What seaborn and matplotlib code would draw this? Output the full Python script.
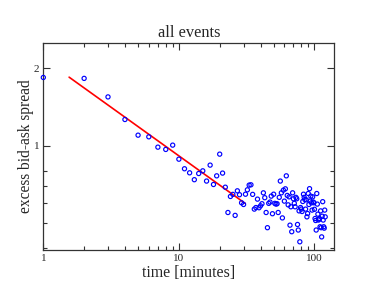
import numpy as np
import pandas as pd
import matplotlib
matplotlib.use("Agg")
import matplotlib.pyplot as plt
import matplotlib.ticker as mticker
import seaborn as sns

# excess spread per minute after the event
minutes = list(range(1, 121))
spread = [
    1.845, 1.83, 1.55, 1.266, 1.10, 1.084, 0.988, 0.968, 1.006, 0.887,
    0.814, 0.785, 0.738, 0.780, 0.799, 0.729, 0.841, 0.707, 0.764, 0.928,
    0.783, 0.690, 0.550, 0.635, 0.647, 0.536, 0.668, 0.645, 0.600, 0.591,
    0.648, 0.674, 0.703, 0.705, 0.647, 0.567, 0.575, 0.620, 0.574, 0.584,
    0.595, 0.656, 0.628, 0.550, 0.480, 0.597, 0.604, 0.637, 0.544, 0.648,
    0.597, 0.593, 0.595, 0.550, 0.630, 0.729, 0.656, 0.524, 0.672, 0.609,
    0.680, 0.764, 0.641, 0.589, 0.633, 0.491, 0.579, 0.463, 0.656, 0.622,
    0.597, 0.579, 0.630, 0.622, 0.494, 0.470, 0.558, 0.423, 0.575, 0.567,
    0.555, 0.607, 0.648, 0.630, 0.618, 0.567, 0.616, 0.529, 0.545, 0.652,
    0.591, 0.681, 0.609, 0.637, 0.600, 0.562, 0.633, 0.604, 0.600, 0.566,
    0.521, 0.512, 0.470, 0.652, 0.593, 0.542, 0.514, 0.518, 0.521, 0.484,
    0.558, 0.480, 0.442, 0.532, 0.606, 0.514, 0.484, 0.478, 0.562, 0.529,
]

# power-law fit, end points
fit_x = [1.55, 30.8]
fit_y = [1.85, 0.597]

df = pd.DataFrame({"minutes": minutes, "spread": spread})
fit = pd.DataFrame({"minutes": fit_x, "spread": fit_y})

sns.set_style("ticks")
plt.rcParams["font.family"] = ["Liberation Serif", "DejaVu Serif"]

fig = plt.figure(figsize=(3.76, 2.91), dpi=100)
ax = fig.add_axes([0.1152, 0.1409, 0.7738, 0.7124])

sns.scatterplot(data=df, x="minutes", y="spread", ax=ax, marker="o",
                facecolor="none", edgecolor="#0000ff", linewidth=0.85,
                s=9, clip_on=False, zorder=3)
sns.lineplot(data=fit, x="minutes", y="spread", ax=ax, color="#ff0000",
             linewidth=1.2, zorder=2)

ax.set_xscale("log")
ax.set_yscale("log")
ax.set_xlim(1, 140)
ax.set_ylim(0.393, 2.52)

ax.xaxis.set_major_locator(mticker.FixedLocator([1, 10, 100]))
ax.xaxis.set_major_formatter(mticker.FixedFormatter(["1", "10", "100"]))
ax.xaxis.set_minor_locator(mticker.LogLocator(base=10, subs=np.arange(2, 10)))
ax.xaxis.set_minor_formatter(mticker.NullFormatter())

ax.yaxis.set_major_locator(mticker.FixedLocator([1, 2]))
ax.yaxis.set_major_formatter(mticker.FixedFormatter(["1", "2"]))
ax.yaxis.set_minor_locator(mticker.FixedLocator([0.4, 0.5, 0.6, 0.7, 0.8]))
ax.yaxis.set_minor_formatter(mticker.NullFormatter())

ax.tick_params(which="both", direction="in", top=True, right=True,
               color="#333333", width=0.8, labelsize=8, pad=3)
ax.tick_params(which="major", length=5)
ax.tick_params(which="minor", length=3)
for sp in ax.spines.values():
    sp.set_color("#333333")
    sp.set_linewidth(0.9)

ax.set_title("all events", fontsize=11.8, pad=4)
ax.set_xlabel("time [minutes]", fontsize=11.4, labelpad=1)
ax.set_ylabel("excess bid-ask spread", fontsize=11.2, labelpad=-0.5)

fig.savefig("out.png", dpi=100)
